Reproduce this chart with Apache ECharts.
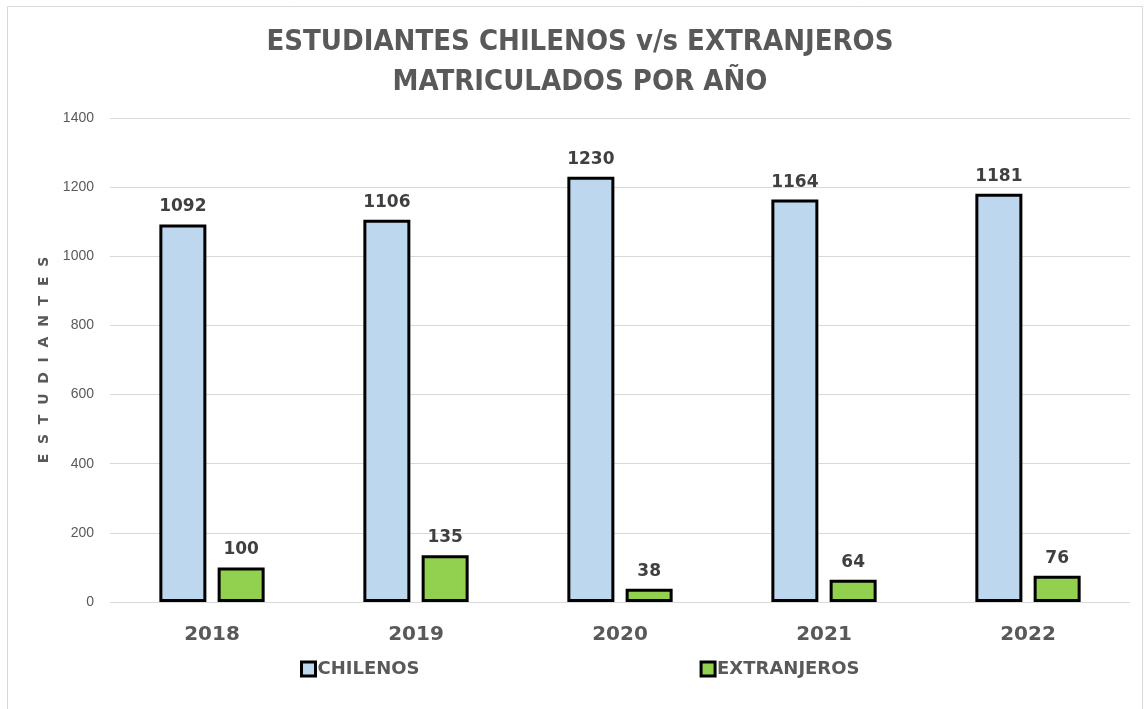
<!DOCTYPE html>
<html>
<head>
<meta charset="utf-8">
<script src="https://cdn.jsdelivr.net/npm/echarts@6/dist/echarts.min.js"></script>
<style>
    html, body { margin: 0; padding: 0; background: #fff; }
    #chart { width: 1147px; height: 709px; }
</style>
</head>
<body>
<div id="chart"></div>
<script>
    // 年份
    let years = ['2018', '2019', '2020', '2021', '2022'];
    // 智利学生
    let chilenos = [1092, 1106, 1230, 1164, 1181];
    // 外国学生
    let extranjeros = [100, 135, 38, 64, 76];

    let myChart = echarts.init(document.getElementById('chart'));

    let boldFont = '"DejaVu Sans", Verdana, sans-serif';

    let labelStyle = {
        show: true,
        position: 'top',
        distance: 9,
        fontSize: 17,
        fontWeight: 'bold',
        color: '#404040',
        fontFamily: boldFont
    };

    let option = {
        backgroundColor: '#fff',
        animation: false,
        //外边框
        graphic: [{
            type: 'rect',
            shape: { x: 7.5, y: 6.5, width: 1135, height: 720 },
            style: { fill: 'none', stroke: '#d9d9d9', lineWidth: 1 },
            silent: true
        }],
        title: {
            text: 'ESTUDIANTES CHILENOS v/s EXTRANJEROS\nMATRICULADOS POR AÑO',
            left: 575,
            textAlign: 'center',
            top: 17,
            textStyle: {
                fontFamily: '"DejaVu Sans Condensed", "Arial Narrow", sans-serif',
                fontSize: 29,
                fontWeight: 'bold',
                color: '#595959',
                lineHeight: 40
            }
        },
        grid: {
            left: 110,
            right: 17,
            top: 118,
            bottom: 107
        },
        legend: {
            data: ['CHILENOS', 'EXTRANJEROS'],
            left: 295,
            top: 655,
            itemGap: 280,
            itemWidth: 14,
            itemHeight: 14,
            icon: 'rect',
            itemStyle: { borderColor: '#000', borderWidth: 3 },
            textStyle: {
                fontFamily: boldFont,
                fontSize: 18,
                fontWeight: 'bold',
                color: '#595959',
                padding: [0, 0, 0, -3]
            }
        },
        xAxis: {
            type: 'category',
            data: years,
            axisLine: { show: false },
            axisTick: { show: false },
            axisLabel: {
                margin: 23,
                fontSize: 20,
                fontWeight: 'bold',
                color: '#595959',
                fontFamily: boldFont
            }
        },
        yAxis: {
            type: 'value',
            min: 0,
            max: 1400,
            interval: 200,
            name: 'E  S  T  U  D  I  A  N  T  E  S',
            nameLocation: 'middle',
            nameRotate: 90,
            nameGap: 59,
            nameTextStyle: {
                fontFamily: boldFont,
                fontSize: 14,
                fontWeight: 'bold',
                color: '#595959'
            },
            axisLine: { show: false },
            axisTick: { show: false },
            axisLabel: {
                margin: 16,
                fontSize: 14,
                color: '#595959',
                fontFamily: 'Arial, "Liberation Sans", sans-serif',
                formatter: function (v) {
                    return String(v);
                }
            },
            splitLine: { lineStyle: { color: '#d9d9d9', width: 1 } }
        },
        series: [{
            name: 'CHILENOS',
            type: 'bar',
            data: chilenos,
            barWidth: 47,
            barGap: '24%',
            itemStyle: {
                color: '#bdd7ee',
                borderColor: '#000',
                borderWidth: 3
            },
            label: labelStyle
        }, {
            name: 'EXTRANJEROS',
            type: 'bar',
            data: extranjeros,
            barWidth: 47,
            barGap: '24%',
            itemStyle: {
                color: '#92d050',
                borderColor: '#000',
                borderWidth: 3
            },
            label: labelStyle
        }]
    };

    myChart.setOption(option);
</script>
</body>
</html>
